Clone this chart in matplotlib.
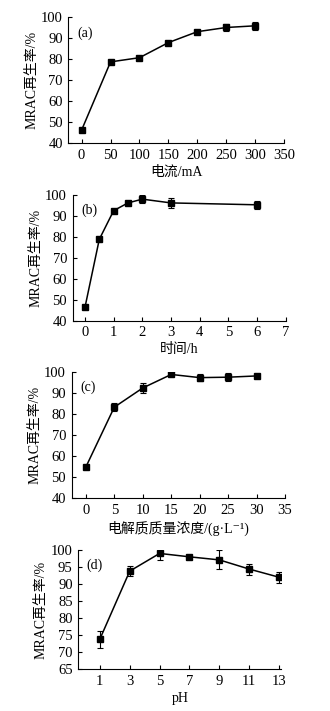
import matplotlib
matplotlib.use("Agg")
import matplotlib.pyplot as plt

plt.rcParams['font.family'] = ['Liberation Serif', 'Noto Sans CJK SC', 'DejaVu Serif']
plt.rcParams['font.size'] = 10

# (a) current
current = [0, 50, 100, 150, 200, 250, 300]
rate_a = [46.3, 78.8, 80.8, 88.0, 93.2, 95.2, 96.0]
err_a = [0.5, 0.8, 0.8, 0.5, 0.5, 1.8, 2.0]

# (b) time
hours = [0, 0.5, 1, 1.5, 2, 3, 6]
rate_b = [46.3, 78.8, 92.5, 96.2, 98.0, 96.2, 95.3]
err_b = [0.5, 1.0, 0.5, 0.5, 2.0, 2.2, 2.0]

# (c) electrolyte concentration
conc = [0, 5, 10, 15, 20, 25, 30]
rate_c = [54.8, 83.2, 92.3, 98.7, 97.2, 97.4, 98.0]
err_c = [0.5, 2.0, 2.5, 0.5, 1.8, 1.8, 0.5]

# (d) pH
ph = [1, 3, 5, 7, 9, 11, 13]
rate_d = [73.8, 93.8, 99.0, 98.0, 97.1, 94.4, 92.0]
err_d = [2.5, 1.5, 2.0, 0.6, 2.8, 1.6, 1.6]

panels = [
    dict(pos=[0.207, 0.7985, 0.654, 0.177], x=current, y=rate_a, e=err_a, tag='(a)',
         xlim=(-23, 350), xticks=range(0, 351, 50), ylim=(40, 100), yticks=range(40, 101, 10),
         xlabel='电流/mA'),
    dict(pos=[0.220, 0.549, 0.646, 0.1768], x=hours, y=rate_b, e=err_b, tag='(b)',
         xlim=(-0.43, 7), xticks=range(0, 8), ylim=(40, 100), yticks=range(40, 101, 10),
         xlabel='时间/h'),
    dict(pos=[0.217, 0.2992, 0.647, 0.178], x=conc, y=rate_c, e=err_c, tag='(c)',
         xlim=(-2.5, 35), xticks=range(0, 36, 5), ylim=(40, 100), yticks=range(40, 101, 10),
         xlabel='电解质质量浓度/(g·L\u207b\u00b9)'),
    dict(pos=[0.237, 0.059, 0.616, 0.1674], x=ph, y=rate_d, e=err_d, tag='(d)',
         xlim=(-0.45, 13.16), xticks=range(1, 14, 2), ylim=(65, 100), yticks=range(65, 101, 5),
         xlabel='pH'),
]

fig = plt.figure(figsize=(3.3, 7.11), dpi=100)

for p in panels:
    ax = fig.add_axes(p['pos'])
    ax.errorbar(p['x'], p['y'], yerr=p['e'], color='black', lw=1.1,
                marker='s', ms=5, capsize=2, elinewidth=0.8, capthick=0.8)
    ax.set_xlim(*p['xlim'])
    ax.set_ylim(*p['ylim'])
    ax.set_xticks(list(p['xticks']))
    ax.set_yticks(list(p['yticks']))
    ax.spines['top'].set_visible(False)
    ax.spines['right'].set_visible(False)
    ax.tick_params(direction='in', length=3, width=0.8, labelsize=10.5, pad=4)
    ax.set_xlabel(p['xlabel'], fontsize=10, labelpad=3)
    ax.set_ylabel('MRAC再生率/%', fontsize=10, labelpad=2)
    ax.text(0.04, 0.93, p['tag'], transform=ax.transAxes, fontsize=10, va='top')

fig.savefig('out.png', dpi=100)
